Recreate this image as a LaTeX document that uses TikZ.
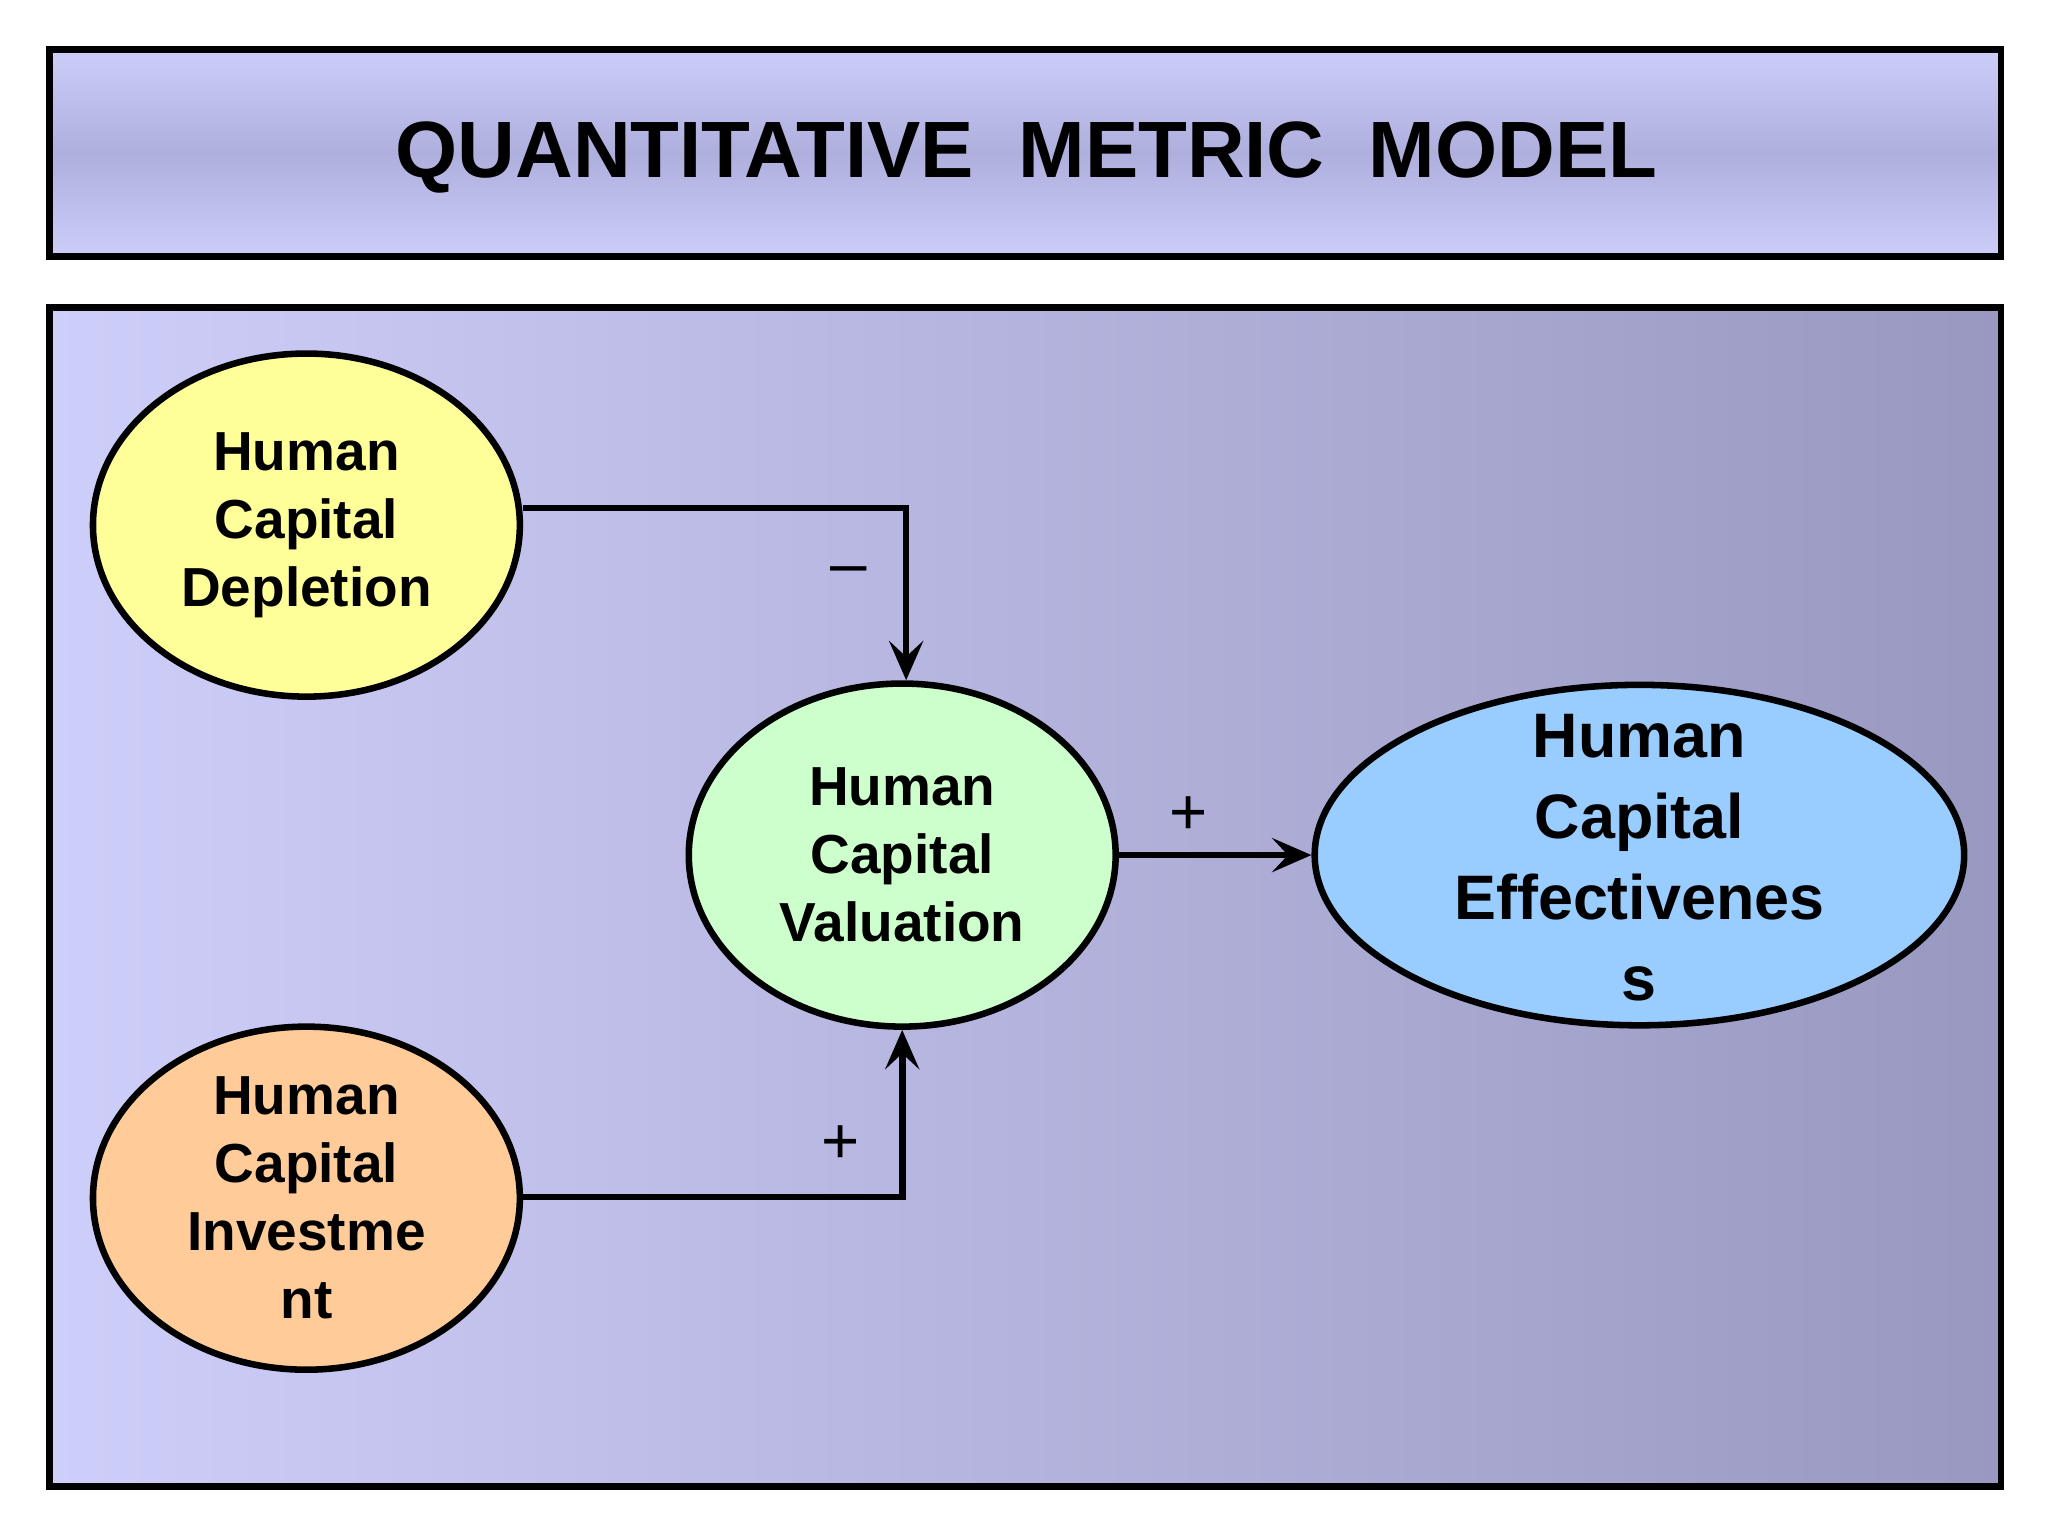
\documentclass[tikz,border=0pt]{standalone}
\usepackage{fontspec}
\setmainfont{Liberation Sans}
\usetikzlibrary{shapes.geometric,arrows.meta}
\begin{document}
\begin{tikzpicture}[x=1pt,y=-1pt,
  bub/.style={ellipse,draw=black,line width=5pt,minimum width=326pt,minimum height=262pt,inner sep=0pt,align=center,font=\fontsize{42}{52}\selectfont\bfseries},
  conn/.style={line width=5pt,-{Stealth[length=30pt,width=26pt,inset=12pt]}},
  sign/.style={font=\fontsize{50}{50}\selectfont}]
\useasboundingbox (0,0) rectangle (1564,1172);
\fill[white] (0,0) rectangle (1564,1172);
\fill[top color={rgb,255:red,205;green,205;blue,250}, bottom color={rgb,255:red,205;green,205;blue,250}, middle color={rgb,255:red,175;green,175;blue,222}] (38,38) rectangle (1528,196);
\draw[line width=5pt] (38,38) rectangle (1528,196);
\node[font=\fontsize{61}{61}\selectfont\bfseries] (title) at (784,120) {QUANTITATIVE~ METRIC~ MODEL};
\fill[left color={rgb,255:red,206;green,206;blue,250}, right color={rgb,255:red,152;green,152;blue,192}] (38,235) rectangle (1528,1135);
\draw[line width=5pt] (38,235) rectangle (1528,1135);
\node[bub,fill={rgb,255:red,255;green,255;blue,153}] (dep) at (234,401) {Human\\Capital\\Depletion};
\node[bub,fill={rgb,255:red,255;green,204;blue,153}] (inv) at (234,915) {Human\\Capital\\Investme\\nt};
\node[bub,fill={rgb,255:red,204;green,255;blue,204}] (val) at (689,653) {Human\\Capital\\Valuation};
\node[bub,fill={rgb,255:red,153;green,204;blue,255},minimum width=496pt,minimum height=260pt] (eff) at (1252,653) {};
\node[align=center,font=\fontsize{48}{62}\selectfont\bfseries] (efft) at (1252,655) {Human\\Capital\\Effectivenes\\s};
\draw[conn] ([yshift=13pt]dep.east) -| ([xshift=3pt]val.north);
\draw[conn] ([yshift=1pt]inv.east) -| (val.south);
\draw[conn] (val.east) -- (eff.west);
\node[sign] (m) at (648,440) {–};
\node[sign] (p1) at (642,874) {+};
\node[sign] (p2) at (908,623) {+};
\end{tikzpicture}
\end{document}
